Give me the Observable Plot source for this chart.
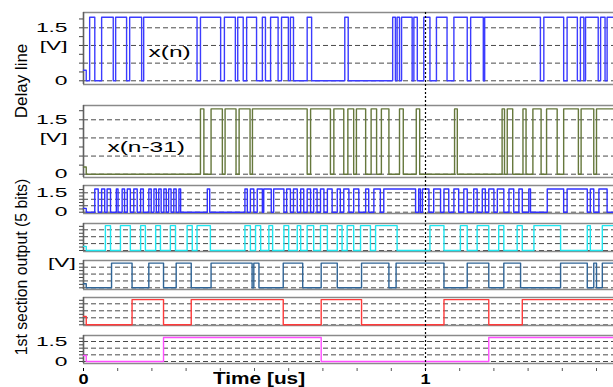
<!DOCTYPE html>
<html><head><meta charset="utf-8">
<script src="https://cdn.jsdelivr.net/npm/d3@7"></script>
<script src="https://cdn.jsdelivr.net/npm/@observablehq/plot@0.6"></script>
<style>
html,body{margin:0;padding:0;background:#fff;}
#chart{position:relative;width:613px;height:387px;overflow:hidden;font-family:"Liberation Sans",Arial,sans-serif;background:#fff;}
#chart svg{position:absolute;left:0;background:transparent;}
.t{position:absolute;white-space:nowrap;color:#000;line-height:1;}
</style></head><body><div id="chart"></div>
<script>
// ---- data (times in microseconds) ----
const tEnd = 1.5497;
const levels = {low: 0, high: 1.8};
const gridLevels = [0, 0.5, 1, 1.5];
const yMinorTicks = [0, 0.25, 0.5, 0.75, 1, 1.25, 1.5, 1.75];
const xMinorTicks = [0, 0.1, 0.2, 0.3, 0.4, 0.5, 0.6, 0.7, 0.8, 0.9, 1, 1.1, 1.2, 1.3, 1.4, 1.5];
const xTickLabels = [0, 1];
const bigYLabels = [0, 1, 1.5];
const smallYLabels = [0, 1.5];

// toggle times of each digital waveform (starts low)
const xn = [0.018,0.033,0.053,0.087,0.094,0.126,0.135,0.170,0.176,0.332,0.342,0.401,0.412,0.444,0.451,0.467,0.477,0.506,0.523,0.532,0.547,0.569,0.579,0.599,0.605,0.614,0.654,0.667,0.764,0.774,0.904,0.912,0.917,0.924,0.930,0.961,0.966,0.976,0.995,1.013,1.032,1.063,1.083,1.122,1.132,1.169,1.173,1.336,1.346,1.404,1.414,1.444,1.453,1.463,1.468,1.505,1.512,1.525,1.531];
const xn31 = [0.342,0.352,0.373,0.406,0.414,0.446,0.455,0.487,0.494,0.654,0.664,0.722,0.732,0.761,0.773,0.790,0.798,0.825,0.841,0.857,0.871,0.893,0.924,0.935,0.973,0.983,1.085,1.093,1.224,1.231,1.239,1.255,1.285,1.294,1.314,1.338,1.354,1.385,1.404,1.447,1.455,1.492,1.500];
const bit0 = [0.033,0.043,0.053,0.062,0.069,0.079,0.096,0.101,0.113,0.120,0.128,0.137,0.147,0.157,0.167,0.175,0.191,0.198,0.206,0.213,0.220,0.227,0.235,0.242,0.249,0.256,0.264,0.271,0.279,0.284,0.362,0.369,0.472,0.479,0.488,0.498,0.508,0.523,0.527,0.549,0.556,0.586,0.594,0.605,0.614,0.625,0.635,0.644,0.654,0.664,0.673,0.683,0.693,0.703,0.713,0.727,0.742,0.751,0.761,0.776,0.790,0.805,0.825,0.834,0.849,0.868,0.878,0.971,0.980,0.985,0.991,1.010,1.024,1.044,1.054,1.068,1.083,1.097,1.112,1.122,1.141,1.151,1.166,1.175,1.185,1.200,1.210,1.229,1.244,1.258,1.273,1.283,1.302,1.307,1.356,1.404,1.414,1.473,1.482,1.492,1.507,1.531];
const bit1 = [0.064,0.079,0.108,0.137,0.167,0.181,0.211,0.225,0.254,0.269,0.303,0.318,0.332,0.371,0.472,0.488,0.503,0.518,0.542,0.553,0.586,0.600,0.625,0.635,0.654,0.673,0.693,0.713,0.742,0.756,0.771,0.790,0.810,0.839,0.854,0.917,1.013,1.054,1.102,1.122,1.151,1.185,1.214,1.229,1.268,1.283,1.317,1.395,1.473,1.482,1.517];
const bit2 = [0.082,0.142,0.191,0.234,0.271,0.315,0.373,0.493,0.498,0.513,0.584,0.641,0.695,0.742,0.813,0.893,0.914,1.054,1.122,1.185,1.229,1.278,1.395,1.473,1.492,1.500,1.517];
const bit3 = [0.142,0.234,0.315,0.584,0.695,0.813,1.054,1.185,1.283];
const bit4 = [0.234,0.695,1.185];
// start-up glitch level of each trace
const startLevels = [0.3, 0.2, 0.3, 0.3, 0.3, 0.6, 0.45];
const glitchEnd = 0.008;

const signals = [xn, xn31, bit0, bit1, bit2, bit3, bit4];
const traceNames = ["x(n)", "x(n-31)"];

// ---- layout / style ----
const colors = ["#3c3cff", "#66783c", "#3030ff", "#1ee6f0", "#2f6496", "#ff3a3a", "#ff4dff"];
const layout = [
  {top: 12, h: 72, domain: [-0.105, 1.933], labels: bigYLabels, name: {t: 0.19, v: 0.8}},
  {top: 105, h: 72, domain: [-0.091, 1.894], labels: bigYLabels, name: {t: 0.07, v: 0.74}},
  {top: 185, h: 28, domain: [-0.1, 2.065], labels: smallYLabels},
  {top: 223, h: 28, domain: [-0.072, 1.957]},
  {top: 260, h: 29, domain: [-0.124, 1.988]},
  {top: 297, h: 28, domain: [-0.05, 1.95]},
  {top: 335, h: 28, domain: [-0.15, 1.95], labels: smallYLabels}
];

function wave(edges, start) {
  const pts = [{t: 0, v: start}, {t: glitchEnd, v: levels.low}];
  let hi = false;
  for (const t of edges) { hi = !hi; pts.push({t, v: hi ? levels.high : levels.low}); }
  pts.push({t: tEnd, v: hi ? levels.high : levels.low});
  return pts;
}

const chart = document.getElementById("chart");
const stretchList = [];

function place(svg, top, factor) {
  svg.style.top = top + "px";
  chart.appendChild(svg);
  if (factor) stretchList.push([svg, factor]);
}

signals.forEach((edges, i) => {
  const L = layout[i];
  const marks = [
    Plot.ruleY(gridLevels, {stroke: "#4a4a4a", strokeDasharray: "5,3", strokeWidth: 1}),
    Plot.ruleY(L.domain, {stroke: "#8a8a8a", strokeWidth: 1.6}),
    Plot.ruleX([0], {stroke: "#606060", strokeWidth: 1.6}),
    Plot.axisY({ticks: yMinorTicks, tickSize: 4, tickFormat: () => "", label: null, stroke: "#444"}),
    Plot.line(wave(edges, startLevels[i]), {x: "t", y: "v", curve: "step-after", stroke: colors[i], strokeWidth: 1.4})
  ];
  if (L.labels) marks.push(Plot.axisY({ticks: L.labels, tickSize: 0, tickPadding: 16, label: null,
    tickFormat: d => d === 1 ? "[V]" : String(d), fontSize: 13}));
  if (L.name) marks.push(Plot.text([traceNames[i]], {x: () => L.name.t, y: () => L.name.v, text: d => d,
    textAnchor: "start", fontSize: 14}));
  const svg = Plot.plot({
    width: 613, height: L.h + 4,
    marginLeft: 83, marginRight: 0, marginTop: 2, marginBottom: 2,
    x: {domain: [0, tEnd], axis: null},
    y: {domain: L.domain, axis: null, label: null},
    style: {fontFamily: "Liberation Sans, Arial, sans-serif", color: "#000", background: "transparent", overflow: "visible"},
    marks
  });
  place(svg, L.top - 2, 1.75);
});

// x axis
const xAxis = Plot.plot({
  width: 613, height: 23, marginLeft: 83, marginRight: 0, marginTop: 0, marginBottom: 19,
  x: {domain: [0, tEnd], axis: null},
  style: {fontFamily: "Liberation Sans, Arial, sans-serif", fontSize: "14px", fontWeight: "bold", color: "#000", background: "transparent", overflow: "visible"},
  marks: [
    Plot.axisX({ticks: xMinorTicks, tickSize: 3, tickFormat: () => "", label: null, stroke: "#555"}),
    Plot.axisX({ticks: xTickLabels, tickSize: 3, tickPadding: 3, label: null, tickFormat: d => String(d)})
  ]
});
place(xAxis, 364, 1.3);

// dotted marker at t = 1
const overlay = Plot.plot({
  width: 613, height: 387, marginLeft: 83, marginRight: 0, marginTop: 12, marginBottom: 16,
  x: {domain: [0, tEnd], axis: null},
  style: {background: "transparent"},
  marks: [Plot.ruleX([1], {stroke: "#000", strokeDasharray: "2,2", strokeWidth: 1.2})]
});
overlay.style.pointerEvents = "none";
place(overlay, 0, 0);

// text labels outside plots
function addText(txt, css) {
  const d = document.createElement("div");
  d.className = "t";
  d.textContent = txt;
  Object.assign(d.style, css);
  chart.appendChild(d);
  return d;
}
addText("Delay line", {left: "21px", top: "81px", fontSize: "17px", transform: "translate(-50%,-50%) rotate(-90deg)"});
addText("1st section output (5 bits)", {left: "22px", top: "267px", fontSize: "15.8px", transform: "translate(-50%,-50%) rotate(-90deg)"});
addText("[V]", {left: "48px", top: "256px", fontSize: "13px", transform: "scaleX(1.75)", transformOrigin: "left center"});
addText("Time [us]", {left: "213px", top: "371px", fontSize: "16px", fontWeight: "bold", transform: "scaleX(1.3)", transformOrigin: "left center"});

// stretch tick labels horizontally (the reference glyphs are wide)
for (const [svg, f] of stretchList) {
  svg.querySelectorAll("text").forEach(el => {
    const w = el.getComputedTextLength();
    if (w > 0) {
      el.setAttribute("textLength", (w * f).toFixed(1));
      el.setAttribute("lengthAdjust", "spacingAndGlyphs");
    }
  });
}
</script></body></html>
